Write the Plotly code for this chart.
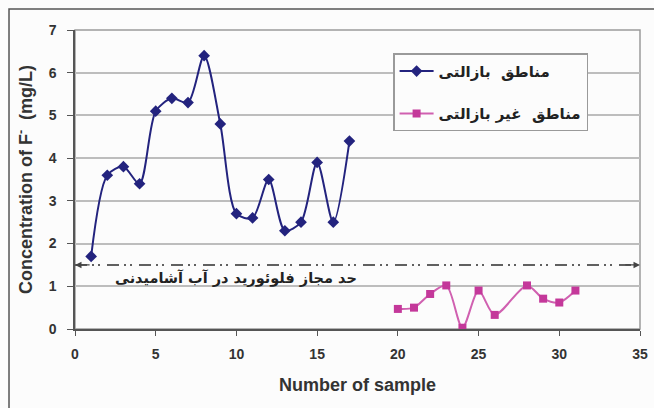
import plotly.graph_objects as go

# data
basalt_x = list(range(1, 18))
basalt_y = [1.7, 3.6, 3.8, 3.4, 5.1, 5.4, 5.3, 6.4, 4.8, 2.7, 2.6, 3.5, 2.3, 2.5, 3.9, 2.5, 4.4]
nonbasalt_x = [20, 21, 22, 23, 24, 25, 26, 28, 29, 30, 31]
nonbasalt_y = [0.47, 0.5, 0.82, 1.02, 0.03, 0.9, 0.33, 1.02, 0.71, 0.62, 0.9]
limit_value = 1.5
limit_x = [0, 35]
series_names = ["مناطق\u00a0\u00a0بازالتی", "مناطق\u00a0\u00a0غیر بازالتی"]
limit_label = "حد مجاز فلوئورید در آب آشامیدنی"
x_ticks = [0, 5, 10, 15, 20, 25, 30, 35]
y_ticks = [0, 1, 2, 3, 4, 5, 6, 7]

BLUE = "#23237e"
PINK_LINE = "#d060b0"
PINK_MARK = "#c4389a"
FONT = "Liberation Sans, Arial, DejaVu Sans"
ARFONT = "DejaVu Sans, Noto Sans, sans-serif"

fig = go.Figure()

fig.add_trace(go.Scatter(
    x=basalt_x, y=basalt_y, mode="lines+markers", name=series_names[0], legendgroup="a",
    line=dict(color=BLUE, width=2, shape="spline", smoothing=0.8),
    marker=dict(symbol="diamond", size=9, color=BLUE),
))
fig.add_trace(go.Scatter(
    x=nonbasalt_x, y=nonbasalt_y, mode="lines+markers", name=series_names[1], legendgroup="b",
    line=dict(color=PINK_LINE, width=2, shape="spline", smoothing=0.8),
    marker=dict(symbol="square", size=8, color=PINK_MARK),
))

# limit line (dash-dot-dot with arrows both ends)
fig.add_trace(go.Scatter(
    x=limit_x, y=[limit_value, limit_value], mode="lines", showlegend=False,
    line=dict(color="#606060", width=2, dash="12px,5px,2px,4px,2px,7px"), hoverinfo="skip",
))
fig.add_annotation(x=limit_x[0], y=limit_value, ax=limit_x[0] + 1, ay=limit_value,
                   xref="x", yref="y", axref="x", ayref="y", text="",
                   showarrow=True, arrowhead=2, arrowsize=1, arrowwidth=1.3, arrowcolor="#444444")
fig.add_annotation(x=limit_x[1], y=limit_value, ax=limit_x[1] - 1, ay=limit_value,
                   xref="x", yref="y", axref="x", ayref="y", text="",
                   showarrow=True, arrowhead=2, arrowsize=1, arrowwidth=1.3, arrowcolor="#444444")
fig.add_annotation(x=10.0, y=1.19, xref="x", yref="y", text=limit_label, showarrow=False,
                   font=dict(family=ARFONT, size=14.5, color="#222222", weight="bold"))

# plot-area frame (grey) and outer frame
fig.add_shape(type="rect", xref="paper", yref="paper", x0=0, y0=0, x1=1, y1=1,
              line=dict(color="#9a9a9a", width=1.5), layer="below")
fig.add_shape(type="rect", xref="paper", yref="paper", x0=-0.1168, y0=-0.6, x1=1.2, y1=1.0702,
              line=dict(color="#555555", width=1.5), layer="below")

fig.update_layout(
    width=654, height=408,
    margin=dict(l=75, r=14, t=30, b=79),
    paper_bgcolor="#fcfcfc", plot_bgcolor="#fcfcfc",
    font=dict(family=FONT, color="#333333"),
    showlegend=True,
    legend=dict(
        x=0.563, y=0.922, xanchor="left", yanchor="top",
        bgcolor="#fcfcfc", bordercolor="#9a9a9a", borderwidth=1.5,
        font=dict(family=ARFONT, size=15, color="#222222", weight="bold"),
        traceorder="grouped", tracegroupgap=20, itemwidth=34,
    ),
    xaxis=dict(
        range=[0, 35], tickvals=x_ticks, showgrid=False, zeroline=False, automargin=False,
        showline=True, linecolor="#555555", linewidth=1.5,
        ticks="outside", ticklen=5, tickcolor="#555555", tickwidth=1,
        tickfont=dict(family=FONT, size=14, color="#333333", weight="bold"),
        ticklabelstandoff=6,
        title=dict(text="Number of sample", standoff=18,
                   font=dict(family=FONT, size=18, color="#333333", weight="bold")),
    ),
    yaxis=dict(
        range=[0, 7], tickvals=y_ticks, showgrid=True, gridcolor="#bdbdbd", gridwidth=1.5,
        zeroline=False, showline=True, linecolor="#555555", linewidth=1.5, automargin=False,
        ticks="outside", ticklen=6, tickcolor="#555555", tickwidth=1,
        tickfont=dict(family=FONT, size=14, color="#333333", weight="bold"),
        ticklabelstandoff=8,
        title=dict(text="Concentration of F<sup>-</sup>  (mg/L)", standoff=11,
                   font=dict(family=FONT, size=18, color="#333333", weight="bold")),
    ),
)

fig.write_html("out.html")
